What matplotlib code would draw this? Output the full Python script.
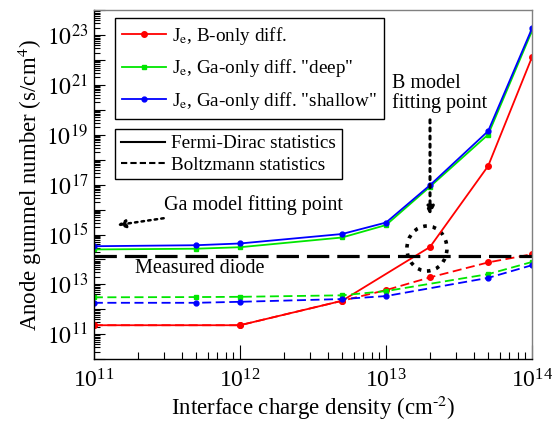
import numpy as np
import matplotlib
matplotlib.use('Agg')
import matplotlib.pyplot as plt
from matplotlib.ticker import LogLocator, FuncFormatter, NullFormatter
from matplotlib.patches import Ellipse

plt.rcParams['font.family'] = 'Liberation Serif'
plt.rcParams['mathtext.fontset'] = 'stix'

# interface charge density (cm^-2)
x_ga = [1e11, 5e11, 1e12, 5e12, 1e13, 2e13, 5e13, 1e14]
x_b = [1e11, 1e12, 5e12, 2e13, 5e13, 1e14]
x_bz = [1e11, 5e11, 1e12, 5e12, 1e13, 5e13, 1e14]
x_b_bz = [1e11, 1e12, 5e12, 1e13, 2e13, 5e13, 1e14]

# log10 of anode gummel number, Fermi-Dirac
b_fd = [11.36, 11.36, 12.34, 14.5, 17.75, 22.13]
ga_deep_fd = [14.40, 14.43, 14.49, 14.88, 15.38, 16.92, 19.01, 23.18]
ga_shallow_fd = [14.53, 14.57, 14.64, 15.02, 15.48, 16.98, 19.15, 23.28]

# log10 of anode gummel number, Boltzmann
b_bz = [11.36, 11.36, 12.34, 12.77, 13.28, 13.88, 14.21]
ga_deep_bz = [12.48, 12.49, 12.50, 12.56, 12.73, 13.41, 13.90]
ga_shallow_bz = [12.26, 12.26, 12.30, 12.41, 12.53, 13.26, 13.77]

measured_diode = 14.13

fig = plt.figure(figsize=(5.52, 4.25), dpi=100)
ax = fig.add_axes([0.170, 0.155, 0.794, 0.821])

red, green, blue = '#ff0000', '#00e600', '#0000ff'

l1, = ax.plot(x_b, 10 ** np.array(b_fd), color=red, lw=1.3, marker='o', ms=4,
              label=r'J$_\mathrm{e}$, B-only diff.')
l2, = ax.plot(x_ga, 10 ** np.array(ga_deep_fd), color=green, lw=1.3, marker='s', ms=3.5,
              label=r'J$_\mathrm{e}$, Ga-only diff. "deep"')
l3, = ax.plot(x_ga, 10 ** np.array(ga_shallow_fd), color=blue, lw=1.3, marker='o', ms=3.5,
              label=r'J$_\mathrm{e}$, Ga-only diff. "shallow"')

ax.plot(x_b_bz, 10 ** np.array(b_bz), color=red, lw=1.3, ls=(0, (5, 2.5)), marker='o', ms=4)
ax.plot(x_bz, 10 ** np.array(ga_deep_bz), color=green, lw=1.3, ls=(0, (5, 2.5)), marker='s', ms=3.5)
ax.plot(x_bz, 10 ** np.array(ga_shallow_bz), color=blue, lw=1.3, ls=(0, (5, 2.5)), marker='o', ms=3.5)

ax.axhline(10 ** measured_diode, color='black', lw=2.3, ls=(0, (7, 2.5)))

ax.set_xscale('log')
ax.set_yscale('log')
ax.set_xlim(1e11, 1e14)
ax.set_ylim(1e10, 1e24)

ax.yaxis.set_major_locator(LogLocator(base=10, numticks=20))
ax.yaxis.set_major_formatter(FuncFormatter(
    lambda v, p: r'$10^{%d}$' % round(np.log10(v)) if round(np.log10(v)) % 2 == 1 else ''))
ax.yaxis.set_minor_locator(LogLocator(base=10, subs=np.arange(2, 10), numticks=20))
ax.yaxis.set_minor_formatter(NullFormatter())
ax.xaxis.set_minor_locator(LogLocator(base=10, subs=np.arange(2, 10), numticks=20))
ax.xaxis.set_minor_formatter(NullFormatter())

ax.tick_params(which='both', direction='in', top=False, right=False, labelsize=17, width=0.8)
ax.tick_params(axis='x', which='major', length=10, pad=7)
ax.tick_params(axis='x', which='minor', length=5)
ax.tick_params(axis='y', which='major', length=8, pad=4)
ax.tick_params(axis='y', which='minor', length=4)

for s in ['top', 'right']:
    ax.spines[s].set_color('#808080')
for s in ax.spines.values():
    s.set_linewidth(1.0)

ax.set_xlabel('Interface charge density (cm$^{\u2010\\mathrm{2}}$)', fontsize=16.5, labelpad=1)
ax.set_ylabel(r'Anode gummel number (s/cm$^{4}$)', fontsize=16.5, labelpad=2)

leg1 = ax.legend(handles=[l1, l2, l3], loc='upper left', bbox_to_anchor=(0.048, 0.977),
                 fontsize=13.8, frameon=True, fancybox=False, edgecolor='black',
                 framealpha=1, handlelength=2.3, handletextpad=0.35, labelspacing=0.55,
                 borderpad=0.35, borderaxespad=0)
leg1.get_frame().set_linewidth(1.0)
ax.add_artist(leg1)

fd_h, = ax.plot([], [], color='black', lw=1.5, label='Fermi-Dirac statistics')
bz_h, = ax.plot([], [], color='black', lw=1.5, ls=(0, (3, 1.5)), label='Boltzmann statistics')
leg2 = ax.legend(handles=[fd_h, bz_h], loc='upper left', bbox_to_anchor=(0.048, 0.659),
                 fontsize=13.8, frameon=True, fancybox=False, edgecolor='black',
                 framealpha=1, handlelength=2.3, handletextpad=0.35, labelspacing=0.2,
                 borderpad=0.3, borderaxespad=0)
leg2.get_frame().set_linewidth(1.0)

ax.annotate('Ga model fitting point', xy=(10 ** 11.16, 10 ** 15.38),
            xytext=(10 ** 11.48, 10 ** 16.18), fontsize=14.5, va='center', ha='left',
            arrowprops=dict(arrowstyle='-|>', ls=':', lw=1.8, color='black',
                            shrinkA=2, shrinkB=0, mutation_scale=12))
ax.text(10 ** 11.28, 10 ** 13.62, 'Measured diode', fontsize=14.5, va='center', ha='left')
ax.text(10 ** 13.04, 10 ** 20.67, 'B model\nfitting point', fontsize=14.5, va='center',
        ha='left', linespacing=1.0)
ax.annotate('', xy=(2e13, 10 ** 15.78), xytext=(2e13, 10 ** 19.6),
            arrowprops=dict(arrowstyle='-|>', ls=':', lw=2.2, color='black',
                            shrinkA=0, shrinkB=0, mutation_scale=12))
ax.add_patch(Ellipse((0.760, 0.317), 0.0913, 0.129, transform=ax.transAxes,
                     fill=False, ls=':', lw=2.6, color='black'))

fig.savefig('out.png', dpi=100)
